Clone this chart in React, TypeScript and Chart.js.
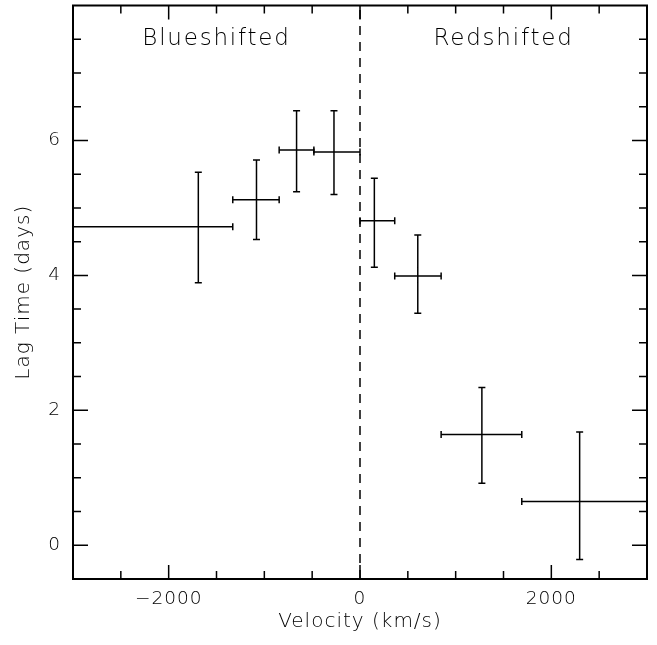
import React, { useEffect, useRef } from 'react';
import { Chart, registerables } from 'chart.js';

Chart.register(...registerables);

// ---- data ----
const velocity = [-1690, -1082, -663, -272, 150, 604, 1274, 2296];
const velocityLow = [-3000, -1330, -845, -482, 0, 363, 848, 1691];
const velocityHigh = [-1330, -845, -482, 0, 363, 848, 1691, 3000];
const lag = [4.72, 5.12, 5.86, 5.83, 4.81, 3.99, 1.64, 0.65];
const lagLow = [3.89, 4.53, 5.24, 5.2, 4.12, 3.44, 0.92, -0.21];
const lagHigh = [5.53, 5.71, 6.44, 6.44, 5.44, 4.6, 2.34, 1.68];

// ---- axes / ticks ----
const xRange = [-3000, 3000];
const yRange = [-0.5, 8];
const xLabelTicks = [-2000, 0, 2000];
const xMinorTicks = [-2500, -1500, -1000, -500, 500, 1000, 1500, 2500];
const yLabelTicks = [0, 2, 4, 6];
const yMinorTicks = [0.5, 1, 1.5, 2.5, 3, 3.5, 4.5, 5, 5.5, 6.5, 7, 7.5];

// ---- region labels ----
const regionNames = ['Blueshifted', 'Redshifted'];
const regionVelocity = [-1500, 1500];
const regionLag = 7.42;

const FONT = '"DejaVu Sans", sans-serif';

const xErrData: { x: number; y: number | null }[] = [];
velocity.forEach((v, i) => {
  xErrData.push({ x: velocityLow[i], y: lag[i] });
  xErrData.push({ x: velocityHigh[i], y: lag[i] });
  xErrData.push({ x: v, y: null });
});
const yErrData: { x: number; y: number | null }[] = [];
velocity.forEach((v, i) => {
  yErrData.push({ x: v, y: lagLow[i] });
  yErrData.push({ x: v, y: lagHigh[i] });
  yErrData.push({ x: v, y: null });
});

const framePlugin = {
  id: 'frameTicks',
  beforeDraw(chart: any) {
    chart.ctx.letterSpacing = '1px';
  },
  afterDatasetsDraw(chart: any) {
    const { ctx, chartArea, scales } = chart;
    const { left, right, top, bottom } = chartArea;
    const xs = scales.x;
    const ys = scales.y;
    ctx.save();
    ctx.strokeStyle = '#000';
    ctx.lineWidth = 1.5;
    ctx.beginPath();
    const xTick = (v: number, len: number) => {
      const px = xs.getPixelForValue(v);
      ctx.moveTo(px, bottom);
      ctx.lineTo(px, bottom - len);
      ctx.moveTo(px, top);
      ctx.lineTo(px, top + len);
    };
    const yTick = (v: number, len: number) => {
      const py = ys.getPixelForValue(v);
      ctx.moveTo(left, py);
      ctx.lineTo(left + len, py);
      ctx.moveTo(right, py);
      ctx.lineTo(right - len, py);
    };
    xLabelTicks.forEach((v) => xTick(v, 14));
    xMinorTicks.forEach((v) => xTick(v, 8));
    yLabelTicks.forEach((v) => yTick(v, 15));
    yMinorTicks.forEach((v) => yTick(v, 8));
    ctx.stroke();
    ctx.lineWidth = 2;
    ctx.strokeRect(left, top, right - left, bottom - top);

    ctx.fillStyle = '#000';
    ctx.font = `200 23px ${FONT}`;
    ctx.letterSpacing = '1.8px';
    ctx.textAlign = 'center';
    ctx.textBaseline = 'alphabetic';
    regionNames.forEach((name, i) => {
      ctx.fillText(name, xs.getPixelForValue(regionVelocity[i]), ys.getPixelForValue(regionLag));
    });
    ctx.restore();
  },
};

export default function App() {
  const ref = useRef<HTMLCanvasElement>(null);
  useEffect(() => {
    if (!ref.current) return;
    Chart.defaults.color = '#000';
    const chart = new Chart(ref.current, {
      type: 'scatter',
      data: {
        datasets: [
          {
            label: 'zero',
            data: [
              { x: 0, y: yRange[0] },
              { x: 0, y: yRange[1] },
            ],
            showLine: true,
            borderColor: '#000',
            borderWidth: 1.5,
            borderDash: [9, 7],
            pointRadius: 0,
          },
          {
            label: 'velocity error',
            data: xErrData,
            showLine: true,
            spanGaps: false,
            borderColor: '#000',
            borderWidth: 1.5,
            pointStyle: 'line',
            pointRotation: 90,
            pointRadius: 3.5,
            pointBorderWidth: 1.5,
            pointBorderColor: '#000',
            pointBackgroundColor: '#000',
          },
          {
            label: 'lag error',
            data: yErrData,
            showLine: true,
            spanGaps: false,
            borderColor: '#000',
            borderWidth: 1.5,
            pointStyle: 'line',
            pointRotation: 0,
            pointRadius: 3.5,
            pointBorderWidth: 1.5,
            pointBorderColor: '#000',
            pointBackgroundColor: '#000',
          },
        ],
      },
      options: {
        responsive: false,
        animation: false,
        events: [],
        layout: { padding: { left: 0, top: 5, right: 10, bottom: 0 } },
        plugins: {
          legend: { display: false },
          tooltip: { enabled: false },
        },
        scales: {
          x: {
            type: 'linear',
            min: xRange[0],
            max: xRange[1],
            grid: { display: false, drawTicks: false },
            border: { display: false },
            afterBuildTicks: (scale: any) => {
              scale.ticks = xLabelTicks.map((value) => ({ value }));
            },
            afterFit: (scale: any) => {
              scale.height = 66;
              scale.paddingLeft = 0;
              scale.paddingRight = 0;
              scale.paddingTop = 0;
              scale.paddingBottom = 0;
            },
            ticks: {
              color: '#000',
              padding: 9,
              maxRotation: 0,
              font: { family: FONT, size: 18.5, weight: '200' as any },
              callback: (v: any) => (v < 0 ? '\u2212' + Math.abs(v) : String(v)),
            },
            title: {
              display: true,
              text: 'Velocity (km/s)',
              color: '#000',
              padding: { top: 0, bottom: 11.6 },
              font: { family: FONT, size: 20, weight: '200' as any },
            },
          },
          y: {
            type: 'linear',
            min: yRange[0],
            max: yRange[1],
            grid: { display: false, drawTicks: false },
            border: { display: false },
            afterBuildTicks: (scale: any) => {
              scale.ticks = yLabelTicks.map((value) => ({ value }));
            },
            afterFit: (scale: any) => {
              scale.width = 73;
              scale.paddingLeft = 0;
              scale.paddingRight = 0;
              scale.paddingTop = 0;
              scale.paddingBottom = 0;
            },
            ticks: {
              color: '#000',
              padding: 12,
              font: { family: FONT, size: 18.5, weight: '200' as any },
              callback: (v: any) => String(v),
            },
            title: {
              display: true,
              text: 'Lag Time (days)',
              color: '#000',
              padding: { top: 11.8, bottom: 0 },
              font: { family: FONT, size: 20, weight: '200' as any },
            },
          },
        },
      },
      plugins: [framePlugin],
    });
    return () => chart.destroy();
  }, []);
  return (
    <div style={{ position: 'fixed', left: 0, top: 0, width: 657, height: 645, background: '#fff' }}>
      <canvas ref={ref} width={657} height={645} style={{ display: 'block', width: 657, height: 645 }} />
    </div>
  );
}
